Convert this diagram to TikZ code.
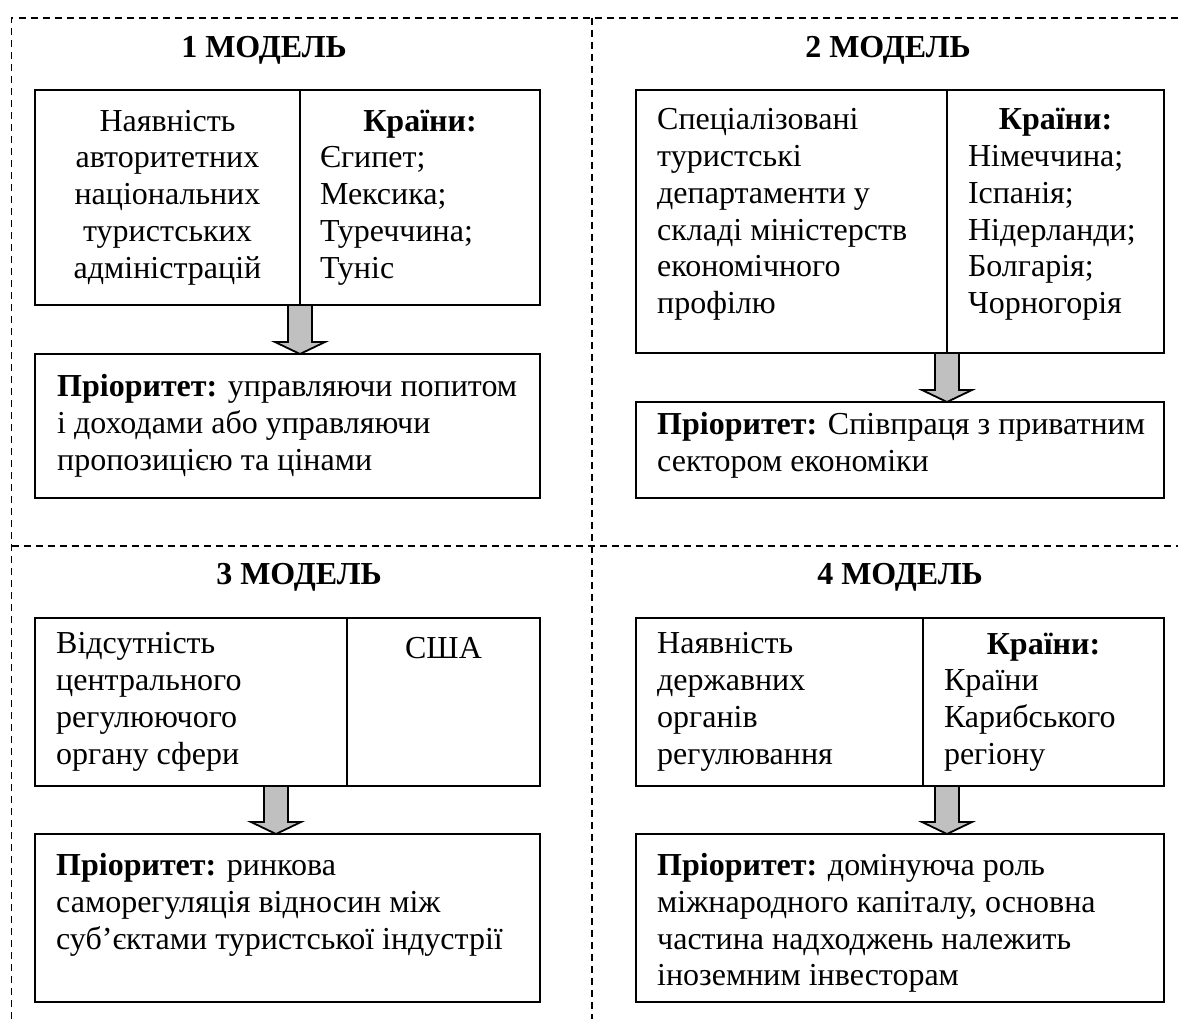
\documentclass[tikz,border=0pt]{standalone}
\usepackage{fontspec}
\setmainfont{Liberation Serif}
\usetikzlibrary{positioning,calc}
\definecolor{arrgray}{RGB}{192,192,192}
\tikzset{
  frm/.style    = {rectangle, draw=black, line width=1.8pt, inner sep=0pt, outer sep=0pt, anchor=north west},
  txt/.style    = {inner sep=0pt, align=left, font=\fontsize{32}{36.8}\selectfont},
  txtc/.style   = {txt, align=center},
  ttl/.style    = {inner sep=0pt, font=\fontsize{32}{36.8}\selectfont\bfseries},
  fatarr/.style = {draw=black, fill=arrgray, line width=1.8pt, line join=miter},
  sep/.style    = {line width=1.5pt, dash pattern=on 7pt off 5pt},
}
% block arrow from #1 (top) down to #2 (tip)
\newcommand{\fatarrow}[2]{%
  \draw[fatarr] ($(#1)+(-12,0)$) -- ($(#2)+(-12,-12)$) -- ($(#2)+(-25,-12)$) -- (#2)
    -- ($(#2)+(25,-12)$) -- ($(#2)+(12,-12)$) -- ($(#1)+(12,0)$) -- cycle;}

\begin{document}
\begin{tikzpicture}[x=1pt, y=-1pt]
  \useasboundingbox (0,0) rectangle (1178,1019);

  % dashed separators
  \draw[sep] (11.5,1019) -- (11.5,18) -- (1178,18);
  \draw[sep] (592,18) -- (592,1019);
  \draw[sep] (11.5,546) -- (1178,546);

  % titles
  \node[ttl] (m1) at (264,50)  {1 МОДЕЛЬ};
  \node[ttl] (m2) at (888,50)  {2 МОДЕЛЬ};
  \node[ttl] (m3) at (299,577) {3 МОДЕЛЬ};
  \node[ttl] (m4) at (900,577) {4 МОДЕЛЬ};

  % model 1
  \node[frm, minimum width=265pt, minimum height=215pt] (c1l) at (35,90) {};
  \node[frm, minimum width=240pt, minimum height=215pt, right=0pt of c1l] (c1r) {};
  \node[frm, minimum width=505pt, minimum height=144pt] (b1) at (35,354) {};
  \node[txtc] (t1l) at (c1l.center) {Наявність\\ авторитетних\\ національних\\ туристських\\ адміністрацій};
  \node[txt, text width=200pt] (t1r) at (c1r.center) {\hfil\textbf{Країни:}\\ Єгипет;\\ Мексика;\\ Туреччина;\\ Туніс};
  \node[txt, right=22pt of b1.west] (t1b) {\textbf{Пріоритет:} управляючи попитом\\ і доходами або управляючи\\ пропозицією та цінами};

  % model 2
  \node[frm, minimum width=311pt, minimum height=263pt] (c2l) at (636,90) {};
  \node[frm, minimum width=217pt, minimum height=263pt, right=0pt of c2l] (c2r) {};
  \node[frm, minimum width=528pt, minimum height=96pt] (b2) at (636,402) {};
  \node[txt, right=21pt of c2l.west, yshift=7pt] (t2l) {Спеціалізовані\\ туристські\\ департаменти у\\ складі міністерств\\ економічного\\ профілю};
  \node[txt, text width=175pt, yshift=7pt] (t2r) at (c2r.center) {\hfil\textbf{Країни:}\\ Німеччина;\\ Іспанія;\\ Нідерланди;\\ Болгарія;\\ Чорногорія};
  \node[txt, right=21pt of b2.west, yshift=4.5pt] (t2b) {\textbf{Пріоритет:} Співпраця з приватним\\ сектором економіки};

  % model 3
  \node[frm, minimum width=312pt, minimum height=168pt] (c3l) at (35,618) {};
  \node[frm, minimum width=193pt, minimum height=168pt, right=0pt of c3l] (c3r) {};
  \node[frm, minimum width=505pt, minimum height=168pt] (b3) at (35,834) {};
  \node[txt, right=21pt of c3l.west] (t3l) {Відсутність\\ центрального\\ регулюючого\\ органу сфери};
  \node[txt, below=19pt of c3r.north] (t3r) {США};
  \node[txt, right=21pt of b3.west, yshift=13pt] (t3b) {\textbf{Пріоритет:} ринкова\\ саморегуляція відносин між\\ суб’єктами туристської індустрії};

  % model 4
  \node[frm, minimum width=287pt, minimum height=168pt] (c4l) at (636,618) {};
  \node[frm, minimum width=241pt, minimum height=168pt, right=0pt of c4l] (c4r) {};
  \node[frm, minimum width=528pt, minimum height=168pt] (b4) at (636,834) {};
  \node[txt, right=21pt of c4l.west] (t4l) {Наявність\\ державних\\ органів\\ регулювання};
  \node[txt, text width=199pt] (t4r) at (c4r.center) {\hfil\textbf{Країни:}\\ Країни\\ Карибського\\ регіону};
  \node[txt, right=21pt of b4.west, yshift=-5pt] (t4b) {\textbf{Пріоритет:} домінуюча роль\\ міжнародного капіталу, основна\\ частина надходжень належить\\ іноземним інвесторам};

  % block arrows
  \coordinate (a1s) at (c1l.south east);
  \coordinate (a1e) at (b1.north -| a1s);
  \coordinate (a2s) at (c2l.south east);
  \coordinate (a2e) at (b2.north -| a2s);
  \coordinate (a3s) at ([xshift=-71pt]c3l.south east);
  \coordinate (a3e) at (b3.north -| a3s);
  \coordinate (a4s) at ([xshift=24pt]c4l.south east);
  \coordinate (a4e) at (b4.north -| a4s);
  \fatarrow{a1s}{a1e}
  \fatarrow{a2s}{a2e}
  \fatarrow{a3s}{a3e}
  \fatarrow{a4s}{a4e}

\end{tikzpicture}
\end{document}
